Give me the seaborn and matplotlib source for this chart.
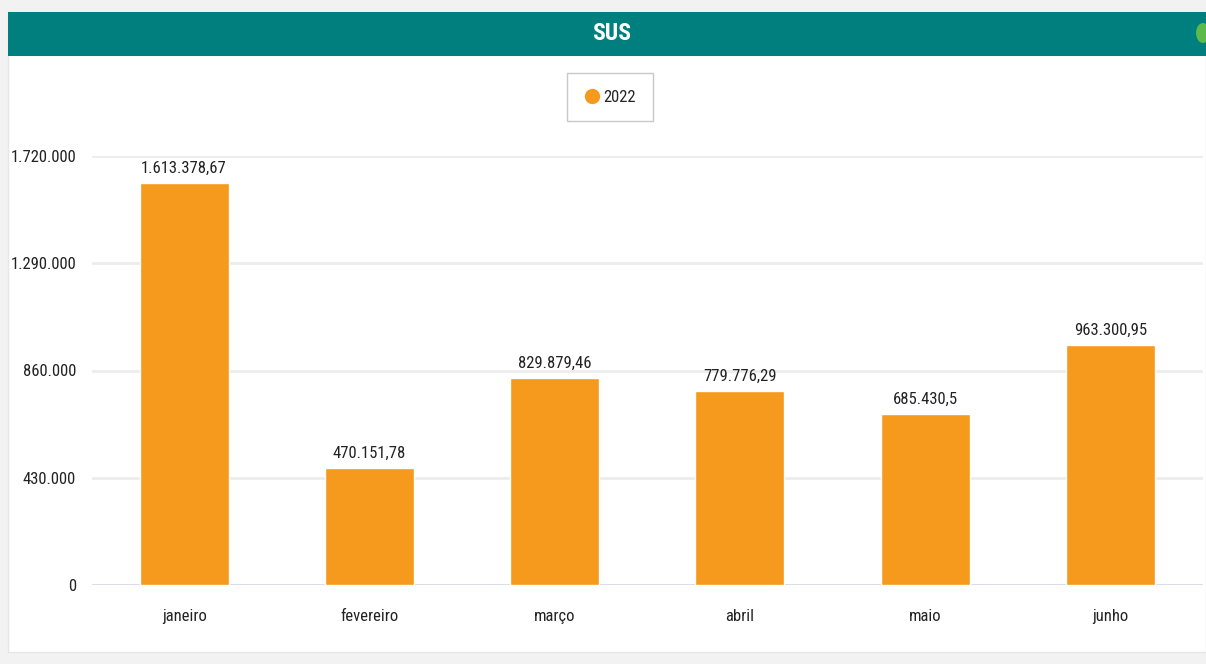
import matplotlib
matplotlib.use("Agg")
import matplotlib.pyplot as plt
import pandas as pd
import seaborn as sns
from matplotlib.lines import Line2D
from matplotlib.patches import Rectangle, Ellipse

meses = ["janeiro", "fevereiro", "março", "abril", "maio", "junho"]
valores = [1613378.67, 470151.78, 829879.46, 779776.29, 685430.50, 963300.95]
serie = "2022"
yticks = [0, 430000, 860000, 1290000, 1720000]
titulo = "SUS"

laranja = "#F59A1C"
teal = "#007F7F"


def br(v, dec=2):
    s = f"{v:,.{dec}f}"
    if dec:
        s = s.rstrip("0").rstrip(".")
    return s.replace(",", "X").replace(".", ",").replace("X", ".")


df = pd.DataFrame({"mes": meses, "valor": valores, "ano": serie})

sns.set_style("white")
plt.rcParams["font.family"] = ["Roboto Condensed", "Barlow Semi Condensed",
                               "Archivo Narrow", "Liberation Sans", "DejaVu Sans"]

W, H = 1206, 664
fig = plt.figure(figsize=(W / 100, H / 100), dpi=100, facecolor="#f2f2f2")

# white panel + teal header
fig.patches.append(Rectangle((8 / W, 1 - 652 / H), 1 - 8 / W, 640 / H,
                             transform=fig.transFigure, facecolor="white",
                             edgecolor="#e6e6e6", lw=1, zorder=0))
fig.patches.append(Rectangle((8 / W, 1 - 56 / H), 1 - 8 / W, 44 / H,
                             transform=fig.transFigure, facecolor=teal,
                             edgecolor="none", zorder=1))
fig.patches.append(Ellipse((1203 / W, 1 - 33 / H), 14 / W, 20 / H,
                           transform=fig.transFigure, facecolor="#5DB94A",
                           edgecolor="none", zorder=2))
fig.text(612 / W, 1 - 34 / H, titulo, color="white", fontsize=17,
         fontweight="bold", ha="center", va="center")

ax = fig.add_axes([91.5 / W, 1 - 585 / H, (1203 - 91.5) / W, (585 - 156) / H])
ax.set_zorder(5)
ax.set_facecolor("none")
sns.barplot(data=df, x="mes", y="valor", color=laranja, width=0.48,
            saturation=1, ax=ax, zorder=3)

ax.set_ylim(0, 1720000)
ax.set_xlim(-0.5, 5.5)
ax.set_yticks(yticks)
ax.set_yticklabels([br(t, 0) for t in yticks])
ax.yaxis.grid(True, color="#ececec", lw=2)
ax.set_axisbelow(True)
ax.axhline(0, color="#d8dbe6", lw=2, zorder=2)
for s in ax.spines.values():
    s.set_visible(False)
ax.tick_params(axis="y", length=0, pad=11, labelsize=12, labelcolor="#222222")
ax.tick_params(axis="x", length=0, pad=17, labelsize=12, labelcolor="#222222")
ax.set_xlabel("")
ax.set_ylabel("")

for i, v in enumerate(valores):
    ax.annotate(br(v), (i, v), xytext=(0, 5), textcoords="offset points",
                ha="center", va="bottom", fontsize=12, color="#222222",
                annotation_clip=False)

h = Line2D([], [], marker="o", linestyle="none", markersize=10,
           markerfacecolor=laranja, markeredgecolor=laranja)
leg = ax.legend([h], [serie], loc="center", bbox_to_anchor=(610 / W, 1 - 97 / H),
                bbox_transform=fig.transFigure, frameon=True, fancybox=False,
                fontsize=12, handletextpad=0.2, handlelength=1.0,
                borderpad=1.0, borderaxespad=0)
leg.get_frame().set_edgecolor("#bbbbbb")
leg.get_frame().set_linewidth(1)

fig.savefig("out.png", dpi=100, facecolor=fig.get_facecolor())
